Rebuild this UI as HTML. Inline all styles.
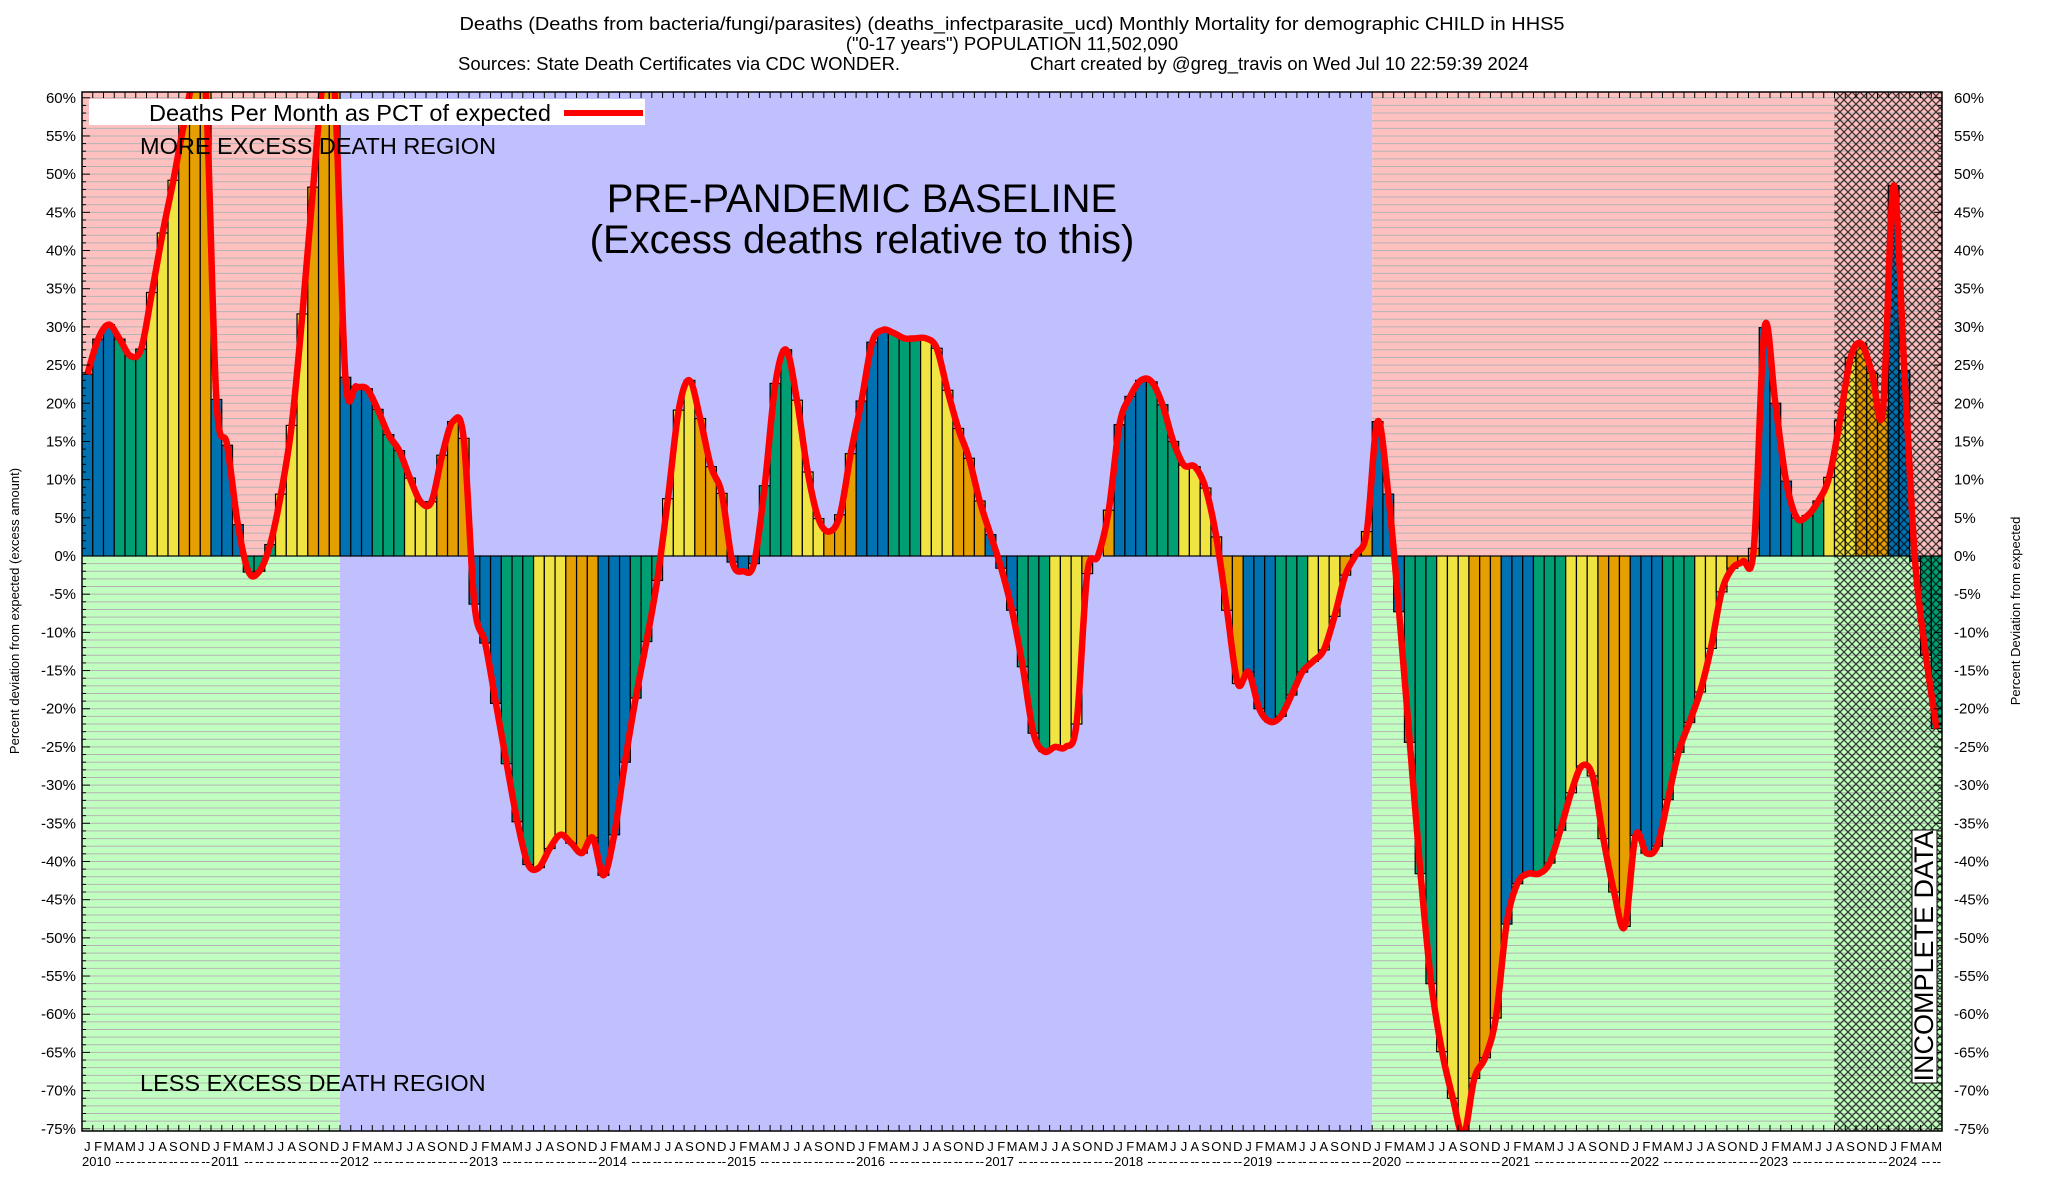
<!DOCTYPE html>
<html><head><meta charset="utf-8">
<style>
body{margin:0;background:#fff;}
svg{display:block;font-family:"Liberation Sans",Arial,sans-serif;}
</style></head>
<body>
<svg id="chart" width="2048" height="1200" viewBox="0 0 2048 1200" xmlns="http://www.w3.org/2000/svg">
<defs>
<clipPath id="plotclip"><rect x="82" y="92" width="1860" height="1039"/></clipPath>
<pattern id="hatch" width="8" height="8" patternUnits="userSpaceOnUse">
<path d="M0,0 L8,8 M8,0 L0,8" stroke="#000" stroke-width="1.3" opacity="0.75"/>
</pattern>
</defs>
<g font-size="18.5" text-anchor="middle" fill="#000">
<text x="1012" y="30" textLength="1105" lengthAdjust="spacingAndGlyphs">Deaths (Deaths from bacteria/fungi/parasites) (deaths_infectparasite_ucd) Monthly Mortality for demographic CHILD in HHS5</text>
<text x="1012" y="50">("0-17 years") POPULATION 11,502,090</text>
<text x="458" y="70" text-anchor="start">Sources: State Death Certificates via CDC WONDER.</text>
<text x="1030" y="70" text-anchor="start">Chart created by @greg_travis on Wed Jul 10 22:59:39 2024</text>
</g>
<g id="bg" clip-path="url(#plotclip)"></g>
<g id="grid" clip-path="url(#plotclip)"></g>
<g id="bars" clip-path="url(#plotclip)"></g>
<g id="hatchg"></g>
<g id="line" clip-path="url(#plotclip)"></g>
<rect x="82" y="92" width="1860" height="1039" fill="none" stroke="#000" stroke-width="1.5"/>
<g id="ticks"></g>
<g id="ylabels" font-size="15"></g>
<g id="xlabels" font-size="13"></g>
<text transform="translate(19,611) rotate(-90)" text-anchor="middle" font-size="13">Percent deviation from expected (excess amount)</text>
<text transform="translate(2020,611) rotate(-90)" text-anchor="middle" font-size="13">Percent Deviation from expected</text>
<g>
<rect x="89" y="99" width="556" height="26" fill="#fff"/>
<text x="149" y="121" font-size="23.5">Deaths Per Month as PCT of expected</text>
<line x1="564" y1="113" x2="643" y2="113" stroke="#f00" stroke-width="6"/>
</g>
<text x="140" y="154" font-size="23.5">MORE EXCESS DEATH REGION</text>
<text x="140" y="1091" font-size="23.5">LESS EXCESS DEATH REGION</text>
<text x="862" y="212" font-size="40" text-anchor="middle">PRE-PANDEMIC BASELINE</text>
<text x="862" y="253" font-size="40" text-anchor="middle">(Excess deaths relative to this)</text>
<g>
<rect x="1912" y="830" width="25" height="253" fill="#fff" stroke="#000" stroke-width="1"/>
<text transform="translate(1933,956) rotate(-90)" text-anchor="middle" font-size="27">INCOMPLETE DATA</text>
</g>
</svg>
<script>
const years = ["2010","2011","2012","2013","2014","2015","2016","2017","2018","2019","2020","2021","2022","2023","2024"];
const monthLetters = ["J","F","M","A","M","J","J","A","S","O","N","D"];
const yTicks = [60,55,50,45,40,35,30,25,20,15,10,5,0,-5,-10,-15,-20,-25,-30,-35,-40,-45,-50,-55,-60,-65,-70,-75];
const values2010 = [23.8,28.4,30.3,28.4,26.2,27.1,34.5,42.3,49.2,56.7,63,61];
const values2011 = [20.5,14.5,4.1,-2.1,-2,1.5,8.1,17.1,31.7,48.3,63,61];
const values2012 = [23.4,22.2,21.9,19.2,15.9,13.8,10.2,7.1,7.1,13.2,17.6,15.4];
const values2013 = [-6.3,-11.4,-19.3,-27.2,-34.8,-40.4,-40.8,-38.3,-36.5,-37.6,-38.9,-36.9];
const values2014 = [-41.8,-36.5,-27,-18.6,-11.2,-3.2,7.5,19.1,23,18,11.7,8.2];
const values2015 = [-0.8,-2,-1,9.2,22.6,27,20.4,11,4.9,3.2,5.4,13.4];
const values2016 = [20.3,28,29.6,29.2,28.5,28.5,28.5,27.2,21.7,16.7,12.8,7.2];
const values2017 = [2.8,-1.6,-7.1,-14.5,-23.2,-25.6,-25,-25,-22,-2.3,0,6];
const values2018 = [17.2,20.9,23,22.8,19.8,15,11.9,11.7,8.9,2.5,-7.1,-16.7];
const values2019 = [-15.2,-20,-21.7,-21,-18.2,-15.2,-13.8,-12.3,-7.9,-2.5,0.2,3.2];
const values2020 = [17.6,8.1,-7.3,-24.4,-41.6,-56,-64.9,-71,-75.8,-68.4,-65.7,-60.5];
const values2021 = [-48.2,-42.9,-41.6,-41.6,-40.2,-35.9,-31,-27.5,-28.8,-37,-44,-48.5];
const values2022 = [-36.6,-38.9,-38,-31.9,-25.7,-21.8,-17.8,-12.1,-4.7,-1.6,-0.7,1];
const values2023 = [29.9,20,9.8,5,5.3,7.2,10.3,17.7,26,27.8,23.9,19];
const values2024 = [48.5,24.3,-0.7,-13,-22.6];
const values = [].concat(values2010,values2011,values2012,values2013,values2014,values2015,values2016,values2017,values2018,values2019,values2020,values2021,values2022,values2023,values2024);

const NS="http://www.w3.org/2000/svg";
const X0=82, X1=1942, YT=92, YB=1131, N=173;
const MW=(X1-X0)/N;
function xL(i){return X0+i*MW;}
function xC(i){return X0+(i+0.5)*MW;}
function yS(v){return 556 - v*7.637;}
function mk(tag,parent,attrs){const e=document.createElementNS(NS,tag);for(const k in attrs)e.setAttribute(k,attrs[k]);parent.appendChild(e);return e;}
const y0=yS(0);
const bg=document.getElementById('bg');
let r;
r=mk('rect',bg,{x:X0,y:YT,width:xL(24)-X0,height:y0-YT,fill:'#ffc0c0'});


r=mk('rect',bg,{x:X0,y:y0,width:xL(24)-X0,height:YB-y0,fill:'#c0ffc0'});


r=mk('rect',bg,{x:xL(120),y:YT,width:X1-xL(120),height:y0-YT,fill:'#ffc0c0'});


r=mk('rect',bg,{x:xL(120),y:y0,width:X1-xL(120),height:YB-y0,fill:'#c0ffc0'});


const grid=document.getElementById('grid');
for(let v=-75;v<=60;v++){
  for(const seg of [[X0,xL(24)],[xL(120),X1]]){
    const l=mk('line',grid,{x1:seg[0],x2:seg[1],y1:yS(v),y2:yS(v),stroke:'#b4b4b4','stroke-width':1});
    
    
  }
}
r=mk('rect',bg,{x:xL(24),y:YT,width:xL(120)-xL(24),height:YB-YT,fill:'#c0c0ff'});


const colors=['#0072b2','#009e73','#f0e442','#e69f00'];
const bars=document.getElementById('bars');
values.forEach((v,i)=>{
  const m=i%12;
  const yy=Math.min(yS(v),y0), h=Math.abs(yS(v)-y0);
  const b=mk('rect',bars,{x:xL(i),y:yy,width:MW,height:h,fill:colors[Math.floor(m/3)],stroke:'#000','stroke-width':1.2});
  
  
});
const hg=document.getElementById('hatchg');
const hr=mk('rect',hg,{x:xL(163),y:YT,width:X1-xL(163),height:YB-YT,fill:'url(#hatch)'});


const pts=values.map((v,i)=>[xC(i),yS(v)]);
let d='M'+pts[0][0]+','+pts[0][1];
for(let i=0;i<pts.length-1;i++){
  const p0=pts[Math.max(0,i-1)],p1=pts[i],p2=pts[i+1],p3=pts[Math.min(pts.length-1,i+2)];
  const c1=[p1[0]+(p2[0]-p0[0])/6,p1[1]+(p2[1]-p0[1])/6];
  const c2=[p2[0]-(p3[0]-p1[0])/6,p2[1]-(p3[1]-p1[1])/6];
  d+=' C'+c1.join(',')+' '+c2.join(',')+' '+p2.join(',');
}
const ln=mk('path',document.getElementById('line'),{d:d,fill:'none',stroke:'#ff0000','stroke-width':6.5,'stroke-linejoin':'round'});


const tk=document.getElementById('ticks');
for(let i=0;i<=N;i++){
  mk('line',tk,{x1:xL(i),x2:xL(i),y1:YT,y2:YT+6,stroke:'#000','stroke-width':1});
  mk('line',tk,{x1:xL(i),x2:xL(i),y1:YB,y2:YB-6,stroke:'#000','stroke-width':1});
}
for(let v=-75;v<=60;v++){
  const len=(v%5===0)?8:4;
  mk('line',tk,{x1:X0,x2:X0+len,y1:yS(v),y2:yS(v),stroke:'#000','stroke-width':1});
  mk('line',tk,{x1:X1,x2:X1-len,y1:yS(v),y2:yS(v),stroke:'#000','stroke-width':1});
}
const yl=document.getElementById('ylabels');
yTicks.forEach(v=>{
  const a=mk('text',yl,{x:76,y:yS(v)+5,'text-anchor':'end'});a.textContent=v+'%';
  
  
  const b=mk('text',yl,{x:1954,y:yS(v)+5});b.textContent=v+'%';
  
  
});
const xl=document.getElementById('xlabels');
for(let i=0;i<N;i++){
  const m=i%12;
  const t=mk('text',xl,{x:xC(i),y:1151,'text-anchor':'middle'});t.textContent=monthLetters[m];
  
  
  const u=mk('text',xl,{x:m===0?xL(i):xC(i),y:1166,'text-anchor':m===0?'start':'middle'});
  u.textContent=m===0?years[Math.floor(i/12)]:(m<3?'':'--');
  
  
}
</script>
</body></html>
